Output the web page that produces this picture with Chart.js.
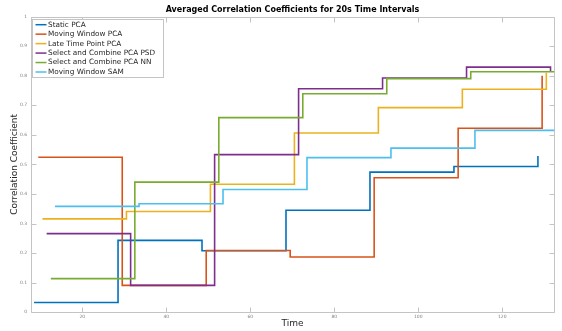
<!DOCTYPE html>
<html>
<head>
<meta charset="utf-8">
<script src="https://cdn.jsdelivr.net/npm/chart.js@4.4.0/dist/chart.umd.min.js"></script>
<style>
  html, body { margin: 0; padding: 0; background: #fff; }
  canvas { display: block; }
</style>
</head>
<body>
<canvas id="chart" width="562" height="331"></canvas>
<script>
// Averaged correlation per 20 s interval (stairs: value holds until next time)
const seriesNames = [
  'Static PCA',
  'Moving Window PCA',
  'Late Time Point PCA',
  'Select and Combine PCA PSD',
  'Select and Combine PCA NN',
  'Moving Window SAM'
];
const seriesColors = ['#0072BD', '#D95319', '#EDB120', '#7E2F8E', '#77AC30', '#4DBEEE'];

const timeStatic  = [8.5, 28.5, 48.5, 68.5, 88.5, 108.5, 128.5];
const corrStatic  = [0.033, 0.243, 0.208, 0.345, 0.474, 0.493, 0.528];

const timeMovPCA  = [9.5, 29.5, 49.5, 69.5, 89.5, 109.5, 129.5];
const corrMovPCA  = [0.524, 0.091, 0.209, 0.187, 0.455, 0.622, 0.800];

const timeLate    = [10.5, 30.5, 50.5, 70.5, 90.5, 110.5, 130.5];
const corrLate    = [0.316, 0.341, 0.433, 0.606, 0.692, 0.754, 0.810];

const timePSD     = [11.5, 31.5, 51.5, 71.5, 91.5, 111.5, 131.5];
const corrPSD     = [0.266, 0.091, 0.533, 0.756, 0.792, 0.829, 0.815];

const timeNN      = [12.5, 32.5, 52.5, 72.5, 92.5, 112.5, 132.5];
const corrNN      = [0.114, 0.440, 0.658, 0.739, 0.790, 0.813, 0.813];

const timeSAM     = [13.5, 33.5, 53.5, 73.5, 93.5, 113.5, 133.5];
const corrSAM     = [0.358, 0.367, 0.415, 0.523, 0.555, 0.615, 0.615];

const xTickValues = [20, 40, 60, 80, 100, 120];
const yTickValues = [0, 0.1, 0.2, 0.3, 0.4, 0.5, 0.6, 0.7, 0.8, 0.9, 1];

const seriesTimes = [timeStatic, timeMovPCA, timeLate, timePSD, timeNN, timeSAM];
const seriesCorrs = [corrStatic, corrMovPCA, corrLate, corrPSD, corrNN, corrSAM];

const FONT = "'DejaVu Sans', sans-serif";
const AXIS_COLOR = '#c4c4c4';

const datasets = seriesNames.map((name, i) => ({
  label: name,
  data: seriesTimes[i].map((t, k) => ({ x: t, y: seriesCorrs[i][k] })),
  borderColor: seriesColors[i],
  backgroundColor: seriesColors[i],
  borderWidth: 1.6,
  pointRadius: 0,
  stepped: 'before',
  fill: false,
  order: seriesNames.length - i
}));

// Box around the plot with inward-pointing tick marks on all four sides
const frameAndTicks = {
  id: 'frameAndTicks',
  beforeDatasetsDraw(chart) {
    const { ctx, chartArea: a, scales: { x, y } } = chart;
    const L = Math.round(a.left) + 0.5, R = Math.round(a.right) + 0.5;
    const T = Math.round(a.top) + 0.5, B = Math.round(a.bottom) + 0.5;
    ctx.save();
    ctx.strokeStyle = AXIS_COLOR;
    ctx.lineWidth = 1;
    ctx.beginPath();
    ctx.rect(L, T, R - L, B - T);
    xTickValues.forEach(v => {
      const px = Math.round(x.getPixelForValue(v)) + 0.5;
      ctx.moveTo(px, B); ctx.lineTo(px, B - 5);
      ctx.moveTo(px, T); ctx.lineTo(px, T + 5);
    });
    yTickValues.forEach(v => {
      const py = Math.round(y.getPixelForValue(v)) + 0.5;
      ctx.moveTo(L, py); ctx.lineTo(L + 5, py);
      ctx.moveTo(R, py); ctx.lineTo(R - 5, py);
    });
    ctx.stroke();
    ctx.restore();
  }
};

// Title above the plot
const plotTitle = {
  id: 'plotTitle',
  afterDraw(chart) {
    const { ctx, chartArea: a } = chart;
    ctx.save();
    ctx.fillStyle = '#000';
    ctx.font = `bold 8px ${FONT}`;
    ctx.textAlign = 'center';
    ctx.textBaseline = 'middle';
    ctx.fillText('Averaged Correlation Coefficients for 20s Time Intervals', (a.left + a.right) / 2, 10);
    ctx.restore();
  }
};

// Boxed legend in the upper-left corner of the plot
const boxLegend = {
  id: 'boxLegend',
  afterDraw(chart) {
    const { ctx, chartArea: a } = chart;
    const x0 = Math.round(a.left) + 1.5, y0 = 19.5;
    const w = 131, h = 58;
    ctx.save();
    ctx.fillStyle = '#fff';
    ctx.fillRect(x0, y0, w, h);
    ctx.strokeStyle = AXIS_COLOR;
    ctx.lineWidth = 1;
    ctx.strokeRect(x0, y0, w, h);
    ctx.font = `7.3px ${FONT}`;
    ctx.textBaseline = 'middle';
    ctx.textAlign = 'left';
    seriesNames.forEach((name, i) => {
      const cy = 24.7 + i * 9.46;
      ctx.strokeStyle = seriesColors[i];
      ctx.lineWidth = 1.5;
      ctx.beginPath();
      ctx.moveTo(x0 + 3, cy);
      ctx.lineTo(x0 + 14, cy);
      ctx.stroke();
      ctx.fillStyle = '#262626';
      ctx.fillText(name, x0 + 15.5, cy);
    });
    ctx.restore();
  }
};

new Chart(document.getElementById('chart'), {
  type: 'line',
  data: { datasets },
  options: {
    responsive: false,
    devicePixelRatio: 1,
    animation: false,
    layout: { padding: { left: 0, right: 7.7, top: 16.5, bottom: 0 } },
    plugins: {
      legend: { display: false },
      title: { display: false },
      tooltip: { enabled: false }
    },
    scales: {
      x: {
        type: 'linear',
        min: 7.7,
        max: 132.4,
        afterBuildTicks: s => { s.ticks = xTickValues.map(v => ({ value: v })); },
        afterFit: s => { s.height = 331 - 312.3; },
        grid: { display: false, drawTicks: false },
        border: { display: false },
        ticks: {
          padding: 2,
          color: '#808080',
          font: { family: FONT, size: 4.5 },
          maxRotation: 0
        },
        title: {
          display: true,
          text: 'Time',
          color: '#262626',
          font: { family: FONT, size: 9 },
          padding: { top: 0, bottom: 1.5 }
        }
      },
      y: {
        type: 'linear',
        min: 0,
        max: 1,
        afterBuildTicks: s => { s.ticks = yTickValues.map(v => ({ value: v })); },
        afterFit: s => { s.width = 30.7; },
        grid: { display: false, drawTicks: false },
        border: { display: false },
        ticks: {
          padding: 3.5,
          color: '#808080',
          font: { family: FONT, size: 4.5 },
          callback: v => String(Math.round(v * 10) / 10)
        },
        title: {
          display: true,
          text: 'Correlation Coefficient',
          color: '#262626',
          font: { family: FONT, size: 9 },
          padding: { top: 9, bottom: 0 }
        }
      }
    }
  },
  plugins: [frameAndTicks, plotTitle, boxLegend]
});
</script>
</body>
</html>
